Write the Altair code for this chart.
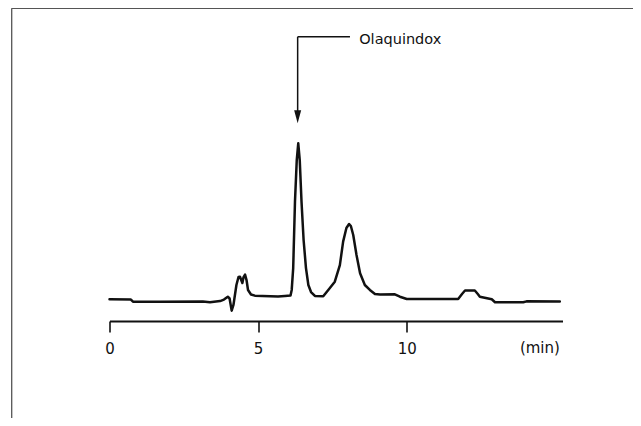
import altair as alt
import pandas as pd

# Chromatogram trace (retention time in min, detector response in relative units)
time_min = [0.00, 0.72, 0.79, 1.70, 3.14, 3.38, 3.72, 3.85, 3.98, 4.04, 4.11, 4.17,
            4.27, 4.34, 4.39, 4.47, 4.51, 4.56, 4.61, 4.66, 4.76, 4.89, 5.67, 5.90,
            6.09, 6.13, 6.18, 6.24, 6.30, 6.35, 6.40, 6.46, 6.53, 6.61, 6.69, 6.78,
            6.91, 7.19, 7.36, 7.58, 7.75, 7.86, 7.97, 8.06, 8.12, 8.20, 8.31, 8.43,
            8.59, 8.76, 8.93, 9.10, 9.60, 9.77, 10.00, 11.73, 11.86, 11.96, 12.29,
            12.39, 12.46, 12.86, 12.97, 13.92, 14.03, 15.15]
signal = [0.5, 0.3, -1.1, -1.2, -1.0, -1.5, -0.7, 0.3, 2.2, 1.0, -7.1, -3.3,
          10.0, 15.3, 15.5, 11.3, 15.3, 16.9, 13.3, 6.7, 3.7, 2.9, 2.3, 2.7,
          3.0, 6.7, 21.3, 65.5, 93.3, 104.5, 93.3, 65.5, 40.0, 21.3, 10.0, 5.3,
          2.7, 2.5, 6.7, 12.2, 23.3, 38.9, 48.0, 50.7, 49.3, 43.3, 30.0, 17.8,
          10.0, 6.7, 4.0, 3.7, 3.8, 2.2, 0.7, 0.7, 4.0, 6.3, 6.3, 4.0,
          2.2, 0.5, -1.5, -1.5, -0.9, -1.0]

tick_values = [0, 5, 10]
unit_label = ["(min)"]
unit_pos = [14.48, -35.1]

peak_label = ["Olaquindox"]
arrow_time = [6.33]
arrow_top = [175.5]
arrow_shaft_end = [124.0]
arrow_head = [122.2]
leader_end = [8.09]
label_pos = [8.40, 170.7]

X_DOMAIN = [0, 15.24]
Y_DOMAIN = [-14, 194]

trace = pd.DataFrame({"t": time_min, "s": signal})
xs = alt.Scale(domain=X_DOMAIN, nice=False, zero=False)
ys = alt.Scale(domain=Y_DOMAIN, nice=False, zero=False)

line = alt.Chart(trace).mark_line(color="#111111", strokeWidth=2.5,
                                  strokeJoin="round", strokeCap="round").encode(
    x=alt.X("t:Q", scale=xs,
            axis=alt.Axis(values=tick_values, title=None, grid=False,
                          domainColor="#111111", domainWidth=2,
                          tickColor="#111111", tickWidth=1.6, tickSize=11,
                          labelFont="DejaVu Sans", labelFontSize=15,
                          labelColor="#111111", labelPadding=9,
                          labelFlush=False, format="d")),
    y=alt.Y("s:Q", scale=ys, axis=None),
)

ann = pd.DataFrame({"t": arrow_time, "top": arrow_top, "shaft": arrow_shaft_end,
                    "head": arrow_head, "lend": leader_end})

shaft = alt.Chart(ann).mark_rule(color="#111111", strokeWidth=1.5).encode(
    x=alt.X("t:Q", scale=xs), y=alt.Y("top:Q", scale=ys), y2="shaft:Q")
leader = alt.Chart(ann).mark_rule(color="#111111", strokeWidth=1.5).encode(
    x=alt.X("t:Q", scale=xs), x2="lend:Q", y=alt.Y("top:Q", scale=ys))
head = alt.Chart(ann).mark_point(shape="M-0.54,-1L0.54,-1L0,1Z", filled=True,
                                 color="#111111", size=169, opacity=1).encode(
    x=alt.X("t:Q", scale=xs), y=alt.Y("head:Q", scale=ys))

lab = pd.DataFrame({"label": peak_label, "t": [label_pos[0]], "s": [label_pos[1]]})
peak_text = alt.Chart(lab).mark_text(font="DejaVu Sans", fontSize=14.5, align="left",
                                     baseline="alphabetic", color="#111111").encode(
    x=alt.X("t:Q", scale=xs), y=alt.Y("s:Q", scale=ys), text="label:N")

ulab = pd.DataFrame({"label": unit_label, "t": [unit_pos[0]], "s": [unit_pos[1]]})
unit_text = alt.Chart(ulab).mark_text(font="DejaVu Sans", fontSize=15, align="center",
                                      baseline="alphabetic", color="#111111").encode(
    x=alt.X("t:Q", scale=xs), y=alt.Y("s:Q", scale=ys), text="label:N")

one = pd.DataFrame({"a": [0]})
frame_top = alt.Chart(one).mark_rule(color="#555555", strokeWidth=1.3).encode(
    x=alt.value(-97.8), x2=alt.value(523.5), y=alt.value(-0.7))
frame_left = alt.Chart(one).mark_rule(color="#555555", strokeWidth=1.3).encode(
    x=alt.value(-97.8), y=alt.value(-0.7), y2=alt.value(409))

chart = alt.layer(frame_top, frame_left, line, shaft, leader, head, peak_text,
                  unit_text).properties(
    width=453, height=312,
    autosize=alt.AutoSizeParams(type="none"),
    padding={"left": 101.5, "top": 1, "right": 70.5, "bottom": 97},
    background="white",
).configure_view(stroke=None)

chart.save("out.html", embed_options={"renderer": "svg", "actions": False})
